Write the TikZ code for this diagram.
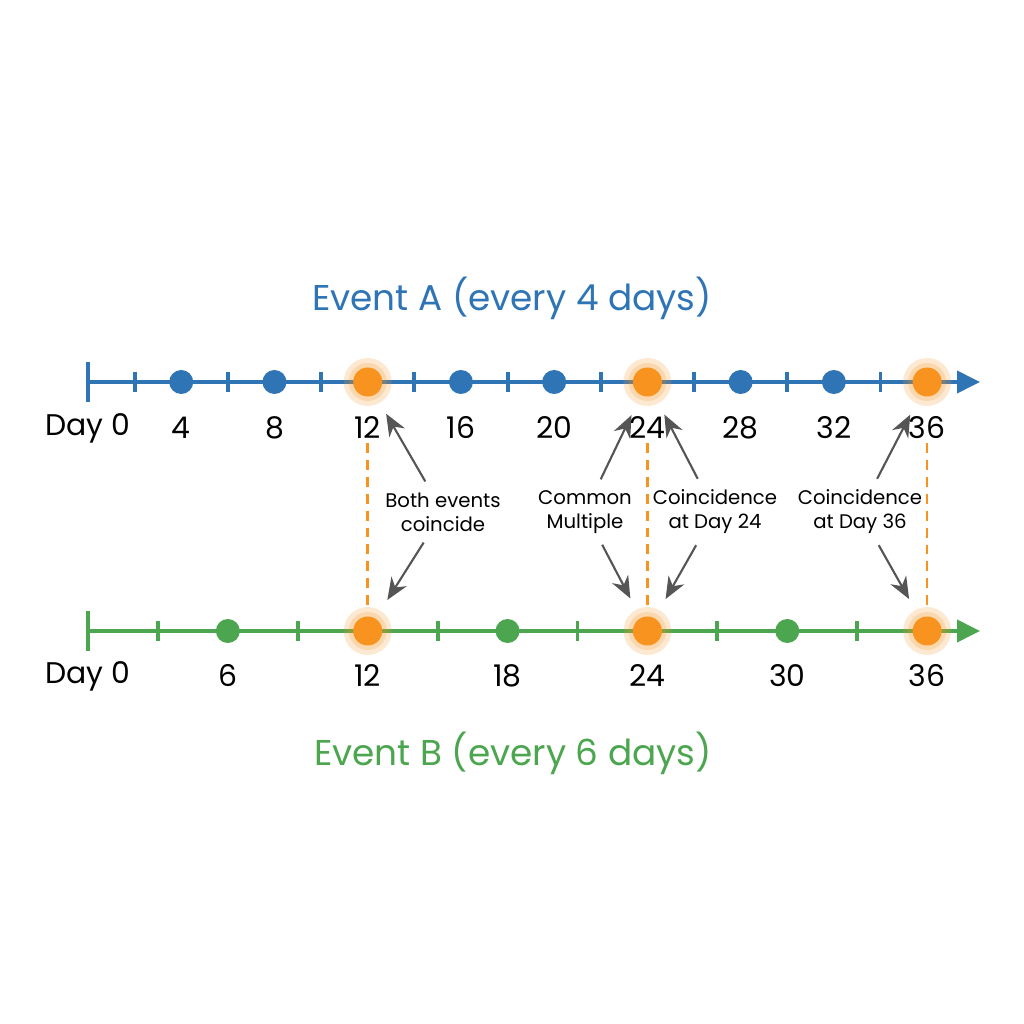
\documentclass[tikz,border=0pt]{standalone}
\usepackage{fontspec}
\setmainfont{Poppins}
\usetikzlibrary{arrows.meta, positioning}
\definecolor{evblue}{RGB}{47,117,181}
\definecolor{evgreen}{RGB}{76,166,79}
\definecolor{evorange}{RGB}{247,147,30}
\definecolor{evgray}{RGB}{85,85,85}

\begin{document}
\begin{tikzpicture}[
  axis/.style={line width=1.1pt, -{Triangle[length=2.3mm, width=2.2mm]}},
  tick/.style={line width=1.1pt},
  dot/.style={circle, fill=#1, inner sep=0pt, minimum size=2.4mm},
  halo/.style={circle, fill=evorange, fill opacity=0.2, inner sep=0pt, minimum size=#1},
  hit/.style={circle, fill=evorange, inner sep=0pt, minimum size=2.9mm},
  day/.style={font=\fontsize{8.5}{10}\selectfont, inner sep=1pt},
  note/.style={font=\fontsize{5.6}{6.8}\selectfont, align=center, inner sep=3pt},
  heading/.style={font=\fontsize{10.2}{12}\selectfont},
  pointer/.style={-{Stealth[length=2.2mm, width=1.8mm]}, draw=evgray, line width=0.6pt, shorten >=1.2mm},
  link/.style={draw=evorange, line width=0.75pt, dash pattern=on 2.8pt off 2pt}
]
\fill[white] (0,0) rectangle (10.24,10.24);
\useasboundingbox (0,0) rectangle (10.24,10.24);

% Event A line, tick every 2 days
\coordinate (a0) at (0.88,6.42);
\coordinate (aend) at (9.80,6.42);
\draw[evblue, tick] (0.88,6.22) -- (0.88,6.62);
\foreach \d in {2,4,...,36} \draw[evblue, tick] ({0.88+0.2331*\d},6.32) -- ++(0,0.2);
\draw[evblue, axis] (a0) -- (aend);
\foreach \d in {4,8,16,20,28,32} \node[dot=evblue] (a\d) at ({0.88+0.2331*\d},6.42) {};

% Event B line, tick every 3 days
\coordinate (b0) at (0.88,3.93);
\coordinate (bend) at (9.80,3.93);
\draw[evgreen, tick] (0.88,3.73) -- (0.88,4.13);
\foreach \d in {3,6,...,36} \draw[evgreen, tick] ({0.88+0.2331*\d},3.83) -- ++(0,0.2);
\draw[evgreen, axis] (b0) -- (bend);
\foreach \d in {6,18,30} \node[dot=evgreen] (b\d) at ({0.88+0.2331*\d},3.93) {};

% coincidences
\foreach \d in {12,24,36} {
  \node[halo=4.8mm] (ga\d) at ({0.88+0.2331*\d},6.42) {};
  \node[halo=3.8mm] at (ga\d) {};
  \node[hit] (a\d) at (ga\d) {};
  \node[halo=4.8mm] (gb\d) at ({0.88+0.2331*\d},3.93) {};
  \node[halo=3.8mm] at (gb\d) {};
  \node[hit] (b\d) at (gb\d) {};
}

% day labels
\node[day] (la0) at (0.88,5.96) {Day 0};
\foreach \d in {4,8,...,36} \node[day] (la\d) at ({0.88+0.2331*\d},5.96) {\d};
\node[day] (lb0) at (0.88,3.48) {Day 0};
\foreach \d in {6,12,...,36} \node[day] (lb\d) at ({0.88+0.2331*\d},3.48) {\d};

\foreach \d in {12,24,36} \draw[link] (la\d) -- (gb\d);

% titles
\node[heading, text=evblue] (titleA) at (5.12,7.26) {Event A (every 4 days)};
\node[heading, text=evgreen] (titleB) at (5.13,2.71) {Event B (every 6 days)};

% notes
\node[note] (both) at (4.43,5.12) {Both events\\coincide};
\node[note] (common) at (5.85,5.12) {Common\\Multiple};
\node[note] (coin24) at (7.15,5.12) {Coincidence\\at Day 24};
\node[note] (coin36) at (8.60,5.12) {Coincidence\\at Day 36};
\draw[pointer] (both) -- (ga12);
\draw[pointer] (both) -- (gb12);
\draw[pointer] (common) -- (ga24);
\draw[pointer] (common) -- (gb24);
\draw[pointer] (coin24) -- (ga24);
\draw[pointer] (coin24) -- (gb24);
\draw[pointer] (coin36) -- (ga36);
\draw[pointer] (coin36) -- (gb36);
\end{tikzpicture}
\end{document}
